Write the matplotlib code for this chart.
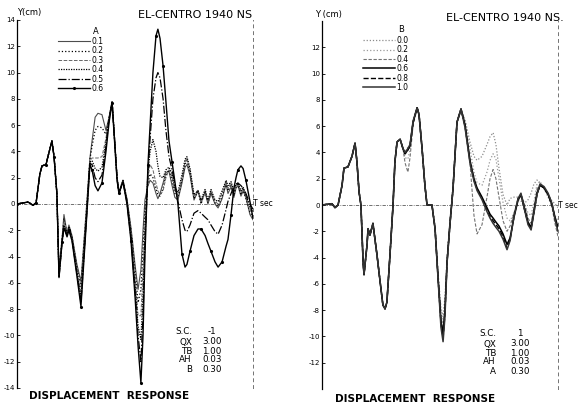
import matplotlib
matplotlib.use('Agg')
import matplotlib.pyplot as plt

plt.rcParams['axes.unicode_minus'] = False
plt.rcParams['font.family'] = 'DejaVu Sans'

# ---- left panel: S.C. = -1, curves for A = 0.1 ... 0.6 (time in sec, Y in cm)
t_left = [0.00, 0.47, 0.68, 0.81, 0.97, 1.06, 1.23, 1.31, 1.48, 1.57, 1.69,
          1.78, 1.91, 1.99, 2.12, 2.20, 2.33, 2.54, 2.71, 2.97,
          3.09, 3.18, 3.31, 3.43, 3.60, 3.77, 3.90, 4.03, 4.15, 4.24, 4.32, 4.49,
          4.66, 4.83, 5.00, 5.13, 5.25, 5.34, 5.42, 5.55,
          5.64, 5.76, 5.89, 5.97, 6.06, 6.19, 6.31, 6.44, 6.57, 6.69, 6.82, 6.99,
          7.12, 7.20, 7.33,
          7.50, 7.67, 7.80, 7.97, 8.09, 8.22, 8.39, 8.52, 8.69, 8.86, 8.94, 9.07,
          9.19, 9.28, 9.36, 9.49, 9.58, 9.70, 9.87, 10.00]

start_left = [0, 0.15, -0.1, 0.1, 2.3, 2.9, 3.0, 3.6, 4.8, 3.6, 0.8]

y_a01 = start_left + [
    -5.0, -2.6, -0.8, -2.2, -1.6, -2.4, -4.6, -5.9, 0.4,
    3.5, 4.8, 6.6, 6.9, 6.8, 5.6, 6.6, 7.8, 4.6, 2.0, 0.9, 1.8, 0.4, -1.8, -4.6, -6.5, -5.0, -2.0, 0.3, 1.4,
    1.8, 1.6, 0.8, 0.4, 0.8, 1.6, 2.4, 2.5, 1.4, 0.5, 0.3, 1.6, 2.8, 3.0, 2.2,
    0.3, 1.0, 0.1, 0.9, 0.0, 0.8, 0.0, -0.3, 0.4, 1.5, 0.8, 1.3, 0.5, 1.2, 1.4, 0.6, 1.0, 0.5, -0.8, -1.2]
y_a02 = start_left + [
    -5.2, -2.7, -1.1, -2.3, -1.7, -2.5, -4.8, -6.3, 0.2,
    3.4, 4.4, 5.6, 5.9, 5.8, 5.3, 6.5, 7.7, 4.5, 2.0, 0.9, 1.8, 0.3, -2.0, -5.0, -7.5, -6.5, -3.5, -0.5, 1.6,
    2.3, 2.0, 1.2, 0.7, 0.6, 1.2, 2.2, 2.6, 1.8, 0.8, 0.5, 1.8, 3.0, 3.3, 2.4,
    0.4, 1.0, 0.0, 1.0, 0.1, 0.9, 0.1, -0.2, 0.6, 1.6, 1.0, 1.5, 0.6, 1.3, 1.5, 0.7, 1.1, 0.4, -0.6, -1.0]
y_a03 = start_left + [
    -5.4, -2.8, -1.4, -2.3, -1.8, -2.6, -5.0, -6.8, 0.0,
    3.3, 3.5, 3.5, 3.5, 3.6, 5.0, 6.6, 7.8, 4.6, 2.1, 0.9, 1.8, 0.3, -2.2, -5.5, -8.5, -8.5, -5.0, -1.5, 2.0,
    3.0, 2.6, 1.6, 1.0, 0.7, 1.0, 2.0, 2.6, 2.1, 1.0, 0.7, 2.0, 3.2, 3.5, 2.6,
    0.6, 1.1, 0.2, 1.0, 0.2, 1.0, 0.2, 0.0, 0.8, 1.7, 1.2, 1.6, 0.8, 1.4, 1.6, 0.9, 1.2, 0.6, -0.4, -0.8]
y_a04 = start_left + [
    -5.5, -2.8, -1.6, -2.4, -1.8, -2.6, -5.2, -7.2, -0.2,
    3.2, 3.3, 2.7, 2.5, 2.8, 4.7, 6.5, 7.8, 4.5, 2.0, 0.9, 1.8, 0.2, -2.4, -6.0, -9.3, -10.3, -7.0, -2.5, 2.5,
    4.0, 4.9, 4.0, 2.9, 2.1, 2.0, 2.6, 2.8, 2.3, 1.2, 0.9, 2.2, 3.4, 3.6, 2.7,
    0.7, 1.0, 0.3, 1.1, 0.3, 1.1, 0.3, 0.2, 1.0, 1.8, 1.4, 1.7, 1.0, 1.5, 1.6, 1.0, 1.3, 0.7, -0.2, -0.6]
y_a05 = start_left + [
    -5.6, -2.9, -1.7, -2.4, -1.9, -2.7, -5.3, -7.5, -0.3,
    3.1, 3.0, 2.0, 1.7, 2.2, 4.4, 6.4, 7.8, 4.4, 1.9, 0.8, 1.7, 0.1, -2.6, -6.5, -10.0, -12.0, -8.5, -3.0, 2.5,
    5.0, 8.0, 9.6, 10.0, 9.6, 8.0, 5.6, 3.6, 2.6, 1.5, 0.2, -1.2, -2.0, -2.1, -1.6,
    -0.7, -0.5, -0.7, -1.0, -1.2, -1.6, -2.1, -2.3, -1.6, -0.4, 0.2, 0.8, 1.3, 1.5, 1.6, 1.4, 1.2, 0.8, 0.0, -0.4]
y_a06 = start_left + [
    -5.6, -2.9, -1.8, -2.5, -2.0, -2.8, -5.5, -7.8, -0.5,
    3.0, 2.6, 1.4, 1.0, 1.6, 4.0, 6.2, 7.7, 4.3, 1.8, 0.8, 1.7, 0.0, -2.8, -7.0, -10.8, -13.6, -10.0, -4.0, 3.0,
    6.0, 10.0, 12.8, 13.3, 12.6, 10.5, 7.8, 4.8, 3.2, 1.7, 0.0, -3.8, -4.8, -4.6, -3.6,
    -2.4, -1.9, -1.9, -2.4, -3.0, -3.6, -4.4, -4.8, -4.4, -3.2, -2.7, -0.8, 1.2, 2.0, 2.6, 2.9, 2.7, 1.8, 0.2, -1.1]

labels_a = ['0.1', '0.2', '0.3', '0.4', '0.5', '0.6']

# ---- right panel: S.C. = 1, curves for B = 0.0 ... 1.0
t_right = [0.00, 0.42, 0.55, 0.68, 0.85, 0.93, 1.10, 1.27, 1.40, 1.48, 1.57, 1.65,
           1.74, 1.78, 1.91, 1.95, 2.03, 2.16, 2.20, 2.33, 2.46, 2.58, 2.67, 2.75,
           2.88, 3.01, 3.09, 3.18, 3.31, 3.43,
           3.52, 3.64, 3.73, 3.86, 4.03, 4.11, 4.24, 4.36, 4.45, 4.66, 4.79, 4.92,
           5.04, 5.13, 5.21, 5.30, 5.42, 5.55, 5.72, 5.89,
           6.06, 6.27, 6.44, 6.57, 6.78, 6.99, 7.12, 7.25, 7.37, 7.50, 7.67, 7.84,
           7.97, 8.14, 8.31, 8.43, 8.56, 8.73, 8.86, 8.98, 9.11, 9.24, 9.41, 9.58,
           9.75, 9.87, 10.00]

start_right = [0, 0.1, -0.2, 0, 1.5, 2.8, 2.9, 3.7, 4.7, 3.3, 1.0, 0, -4.3, -5.3,
               -3.0, -1.8, -2.3, -1.4, -2.0, -3.8, -5.8, -7.6, -7.9, -7.4, -3.8,
               0, 3.3, 4.8, 5.0, 4.3]

y_b00 = start_right + [
    4.0, 4.4, 4.6, 6.3, 7.4, 6.9, 4.3, 1.5, 0.0, 0.0, -1.6, -5.2, -7.8, -8.5, -7.0, -4.0, -1.2, 1.4, 6.3, 7.3,
    6.5, 4.8, 3.7, 3.4, 3.7, 4.6, 5.2, 5.5, 4.6, 2.8, 0.8, 0.0, 0.5, 0.6, 0.6, 0.3, 0.1, 0.4, 0.9, 1.6,
    1.9, 1.7, 1.3, 0.8, 0.3, 0.1, -0.2]
y_b02 = start_right + [
    3.6, 3.5, 4.2, 6.2, 7.4, 6.9, 4.3, 1.5, 0.0, 0.0, -1.7, -5.4, -8.2, -9.0, -7.4, -4.2, -1.3, 1.3, 6.3, 7.3,
    6.4, 4.3, 2.5, 1.7, 1.5, 2.5, 3.4, 3.9, 3.5, 2.0, 0.2, -1.0, -1.2, -0.6, 0.3, 0.6, 0.1, -0.6, -0.8, 0.2,
    1.6, 1.8, 1.2, 0.6, -0.2, -0.8, -1.2]
y_b04 = start_right + [
    3.2, 2.5, 3.6, 6.1, 7.3, 6.8, 4.2, 1.4, 0.0, 0.0, -1.8, -5.5, -8.5, -9.5, -7.8, -4.3, -1.4, 1.2, 6.2, 7.2,
    6.2, 3.2, -0.8, -2.2, -1.5, 0.6, 2.0, 2.7, 2.0, 0.6, -1.2, -2.0, -1.6, -0.6, 0.4, 0.8, 0.2, -1.0, -1.4, -0.2,
    1.2, 1.6, 1.3, 0.8, -0.2, -1.4, -2.4]
y_b06 = start_right + [
    3.9, 4.2, 4.5, 6.3, 7.4, 6.9, 4.3, 1.5, 0.0, 0.0, -1.8, -5.6, -8.8, -9.8, -8.0, -4.3, -1.5, 1.2, 6.3, 7.3,
    6.1, 3.4, 2.0, 1.3, 0.6, -0.2, -0.7, -1.0, -1.3, -1.6, -2.2, -3.0, -2.5, -0.9, 0.4, 0.8, -0.1, -1.3, -1.7, -0.5,
    0.9, 1.5, 1.3, 0.8, 0.0, -0.9, -1.7]
y_b08 = start_right + [
    3.9, 4.2, 4.5, 6.3, 7.4, 6.9, 4.3, 1.5, 0.0, 0.0, -1.8, -5.6, -9.0, -10.1, -8.3, -4.3, -1.5, 1.2, 6.3, 7.3,
    6.0, 3.3, 1.9, 1.2, 0.5, -0.4, -0.9, -1.2, -1.5, -1.8, -2.4, -3.3, -2.6, -0.8, 0.5, 0.8, -0.2, -1.4, -1.8, -0.6,
    0.8, 1.5, 1.3, 0.8, 0.0, -1.0, -1.8]
y_b10 = start_right + [
    4.0, 4.3, 4.6, 6.4, 7.4, 6.9, 4.3, 1.5, 0.0, 0.0, -1.8, -5.7, -9.3, -10.4, -8.5, -4.4, -1.5, 1.2, 6.3, 7.3,
    5.9, 3.2, 1.8, 1.1, 0.4, -0.5, -1.0, -1.4, -1.7, -2.0, -2.6, -3.4, -2.7, -0.8, 0.5, 0.9, -0.2, -1.5, -1.9, -0.6,
    0.8, 1.6, 1.4, 0.9, 0.1, -1.1, -2.0]

labels_b = ['0.0', '0.2', '0.4', '0.6', '0.8', '1.0']

W, H = 580, 408
fig = plt.figure(figsize=(5.8, 4.08), dpi=100)


def fx(x):
    return x / W


def fy(y):
    return 1 - y / H


def style_axes(ax, ticks):
    ax.set_xlim(0, 10)
    ax.set_ylim(-14, 14)
    ax.set_xticks([])
    ax.set_yticks(ticks)
    ax.set_yticklabels([str(v) for v in ticks])
    ax.tick_params(axis='y', direction='in', length=2, width=0.6, labelsize=5, pad=1.5)
    for s in ['top', 'bottom']:
        ax.spines[s].set_visible(False)
    ax.spines['left'].set_linewidth(0.9)
    ax.spines['right'].set_linestyle((0, (3, 4)))
    ax.spines['right'].set_color('0.45')
    ax.spines['right'].set_linewidth(0.7)
    ax.axhline(0, color='0.35', lw=0.6, ls=(0, (4, 1.5, 1, 1.5)))
    ax.text(1.0, 0, 'T sec', transform=ax.get_yaxis_transform(),
            ha='left', va='center', fontsize=5.5)


ax1 = fig.add_axes([fx(17), fy(388), 236 / W, 368 / H])
ax2 = fig.add_axes([fx(322), fy(389), 236 / W, 368 / H])
style_axes(ax1, list(range(-14, 15, 2)))
style_axes(ax2, list(range(-12, 13, 2)))

styles_a = [dict(color='0.3', ls='-', lw=0.8),
            dict(color='k', ls=':', lw=0.9),
            dict(color='0.4', ls='--', lw=0.7),
            dict(color='k', ls=(0, (1, 1)), lw=0.9),
            dict(color='k', ls='-.', lw=0.9),
            dict(color='k', ls='-', lw=1.0, marker='.', ms=2.5, markevery=3)]
for y, lab, st in zip([y_a01, y_a02, y_a03, y_a04, y_a05, y_a06], labels_a, styles_a):
    ax1.plot(t_left, y, label=lab, **st)

styles_b = [dict(color='0.55', ls=(0, (1, 1.5)), lw=0.9),
            dict(color='0.6', ls=':', lw=0.9),
            dict(color='0.45', ls=(0, (3, 1.5)), lw=0.8),
            dict(color='k', ls='-', lw=1.1),
            dict(color='k', ls='--', lw=1.0),
            dict(color='0.2', ls='-', lw=1.1)]
for y, lab, st in zip([y_b00, y_b02, y_b04, y_b06, y_b08, y_b10], labels_b, styles_b):
    ax2.plot(t_right, y, label=lab, **st)

leg_kw = dict(frameon=False, fontsize=5.5, labelspacing=0.05, handletextpad=0.2,
              borderpad=0, borderaxespad=0, handlelength=4.2, loc='upper left',
              bbox_transform=fig.transFigure)
ax1.legend(bbox_to_anchor=(fx(58), fy(37)), **leg_kw)
ax2.legend(bbox_to_anchor=(fx(363), fy(36)), **leg_kw)
fig.text(fx(96), fy(31), 'A', fontsize=6, ha='center', va='center')
fig.text(fx(401), fy(30), 'B', fontsize=6, ha='center', va='center')

# headings
fig.text(fx(195), fy(15), 'EL-CENTRO 1940 NS', fontsize=8, ha='center', va='center')
fig.text(fx(505), fy(18), 'EL-CENTRO 1940 NS.', fontsize=8, ha='center', va='center')
fig.text(fx(17), fy(12), 'Y(cm)', fontsize=6, ha='left', va='center')
fig.text(fx(315), fy(14), 'Y (cm)', fontsize=6, ha='left', va='center')
fig.text(fx(109), fy(396), 'DISPLACEMENT  RESPONSE', fontsize=7.5, fontweight='bold',
         ha='center', va='center')
fig.text(fx(415), fy(399), 'DISPLACEMENT  RESPONSE', fontsize=7.5, fontweight='bold',
         ha='center', va='center')

# parameter blocks
par_names_l = ['S.C.', 'QX', 'TB', 'AH', 'B']
par_vals_l = ['-1', '3.00', '1.00', '0.03', '0.30']
par_names_r = ['S.C.', 'QX', 'TB', 'AH', 'A']
par_vals_r = ['1', '3.00', '1.00', '0.03', '0.30']
rows_l = [332, 342, 351, 360, 369]
rows_r = [334, 344, 353, 362, 371]
for n, v, r in zip(par_names_l, par_vals_l, rows_l):
    fig.text(fx(192), fy(r), n, fontsize=6.3, ha='right', va='center')
    fig.text(fx(212), fy(r), v, fontsize=6.3, ha='center', va='center')
for n, v, r in zip(par_names_r, par_vals_r, rows_r):
    fig.text(fx(496), fy(r), n, fontsize=6.3, ha='right', va='center')
    fig.text(fx(520), fy(r), v, fontsize=6.3, ha='center', va='center')

fig.savefig('out.png', dpi=100)
